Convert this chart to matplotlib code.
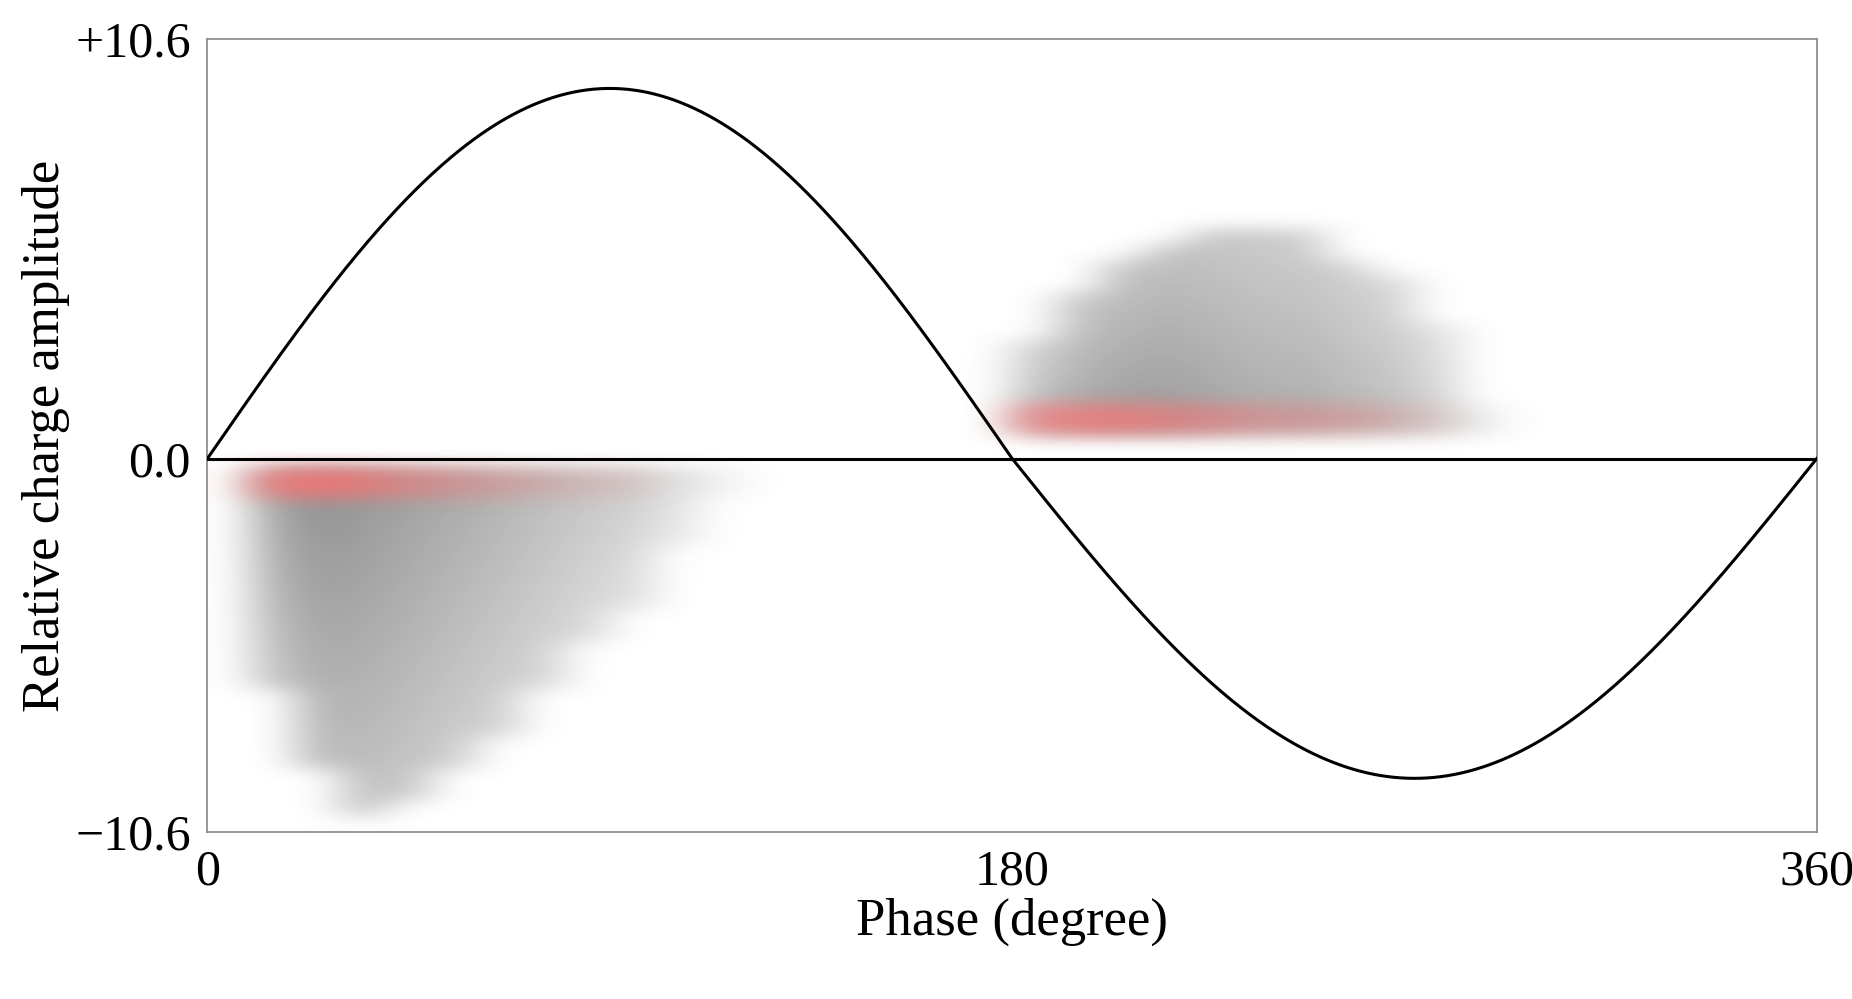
import numpy as np
import matplotlib
matplotlib.use("Agg")
import matplotlib.pyplot as plt

plt.rcParams['font.family'] = ['Liberation Serif', 'DejaVu Serif']

# phase-bin centres (degree) and read-off extent / intensity of the discharge clouds
neg_phase = [15, 25, 35, 45, 55, 65, 75, 85, 95, 105, 115]
neg_depth = [6.0, 8.0, 9.0, 8.6, 7.8, 7.0, 6.0, 4.8, 3.8, 2.4, 1.2]
neg_dens = [0.55, 0.65, 0.60, 0.55, 0.50, 0.45, 0.40, 0.35, 0.30, 0.20, 0.10]
neg_red = [0.7, 0.8, 0.7, 0.5, 0.4, 0.3, 0.2, 0.15, 0.1, 0.0, 0.0]

pos_phase = [185, 195, 205, 215, 225, 235, 245, 255, 265, 275, 285]
pos_height = [2.8, 4.0, 4.8, 5.4, 5.9, 5.9, 5.6, 5.0, 4.5, 3.2, 1.2]
pos_dens = [0.45, 0.55, 0.60, 0.60, 0.55, 0.50, 0.50, 0.45, 0.40, 0.30, 0.15]
pos_red = [0.6, 0.7, 0.7, 0.6, 0.5, 0.4, 0.35, 0.3, 0.2, 0.1, 0.0]

# reference voltage curve
sine_pos_amp = 9.35
sine_neg_amp = 8.08

YTOP = 10.6
YBOT = -9.44   # axis bottom (labelled -10.6 in the original)
amp_step = 0.4
amps = np.arange(YBOT + amp_step / 2, YTOP, amp_step)
nphase = 36
grey = np.zeros((len(amps), nphase))
red = np.zeros((len(amps), nphase))

for ph, ext, d, r in zip(neg_phase, neg_depth, neg_dens, neg_red):
    j = int(ph // 10)
    for i, a in enumerate(amps):
        if -ext <= a <= -0.4:
            grey[i, j] = d * (1 - 0.45 * (-a) / ext)
            if a >= -1.0:
                red[i, j] = r
for ph, ext, d, r in zip(pos_phase, pos_height, pos_dens, pos_red):
    j = int(ph // 10)
    for i, a in enumerate(amps):
        if 0.4 <= a <= ext:
            grey[i, j] = d * (1 - 0.45 * a / ext)
            if a <= 1.2:
                red[i, j] = r

fig = plt.figure(figsize=(18.52, 9.99), dpi=100)
ax = fig.add_axes([0.112, 0.167, 0.869, 0.794])

g_img = np.zeros((len(amps), nphase, 4))
g_img[..., :3] = 0.3
g_img[..., 3] = grey
r_img = np.zeros((len(amps), nphase, 4))
r_img[..., 0] = 1.0
r_img[..., 1] = 0.45
r_img[..., 2] = 0.45
r_img[..., 3] = red
for img in (g_img, r_img):
    ax.imshow(img, extent=[0, 360, YBOT, YTOP], origin="lower",
              aspect="auto", interpolation="bicubic", zorder=1)

phase = np.linspace(0, 360, 721)
s = np.sin(np.radians(phase))
curve = np.where(s >= 0, sine_pos_amp * s, sine_neg_amp * s)
ax.plot(phase, curve, color="black", lw=2.2, zorder=3)
ax.axhline(0, color="black", lw=2.2, zorder=3)

ax.set_xlim(0, 360)
ax.set_ylim(YBOT, YTOP)
ax.set_xticks([0, 180, 360])
ax.set_xticklabels(["0", "180", "360"])
ax.set_yticks([YBOT, 0, YTOP])
ax.set_yticklabels(["\u221210.6", "0.0", "+10.6"])
ax.tick_params(length=0, labelsize=36, pad=12)
for sp in ax.spines.values():
    sp.set_color("#888888")
    sp.set_linewidth(1.2)
ax.set_xlabel("Phase (degree)", fontsize=38, labelpad=2)
ax.set_ylabel("Relative charge amplitude", fontsize=38, labelpad=4)

fig.savefig("out.png", dpi=100, facecolor="white")
